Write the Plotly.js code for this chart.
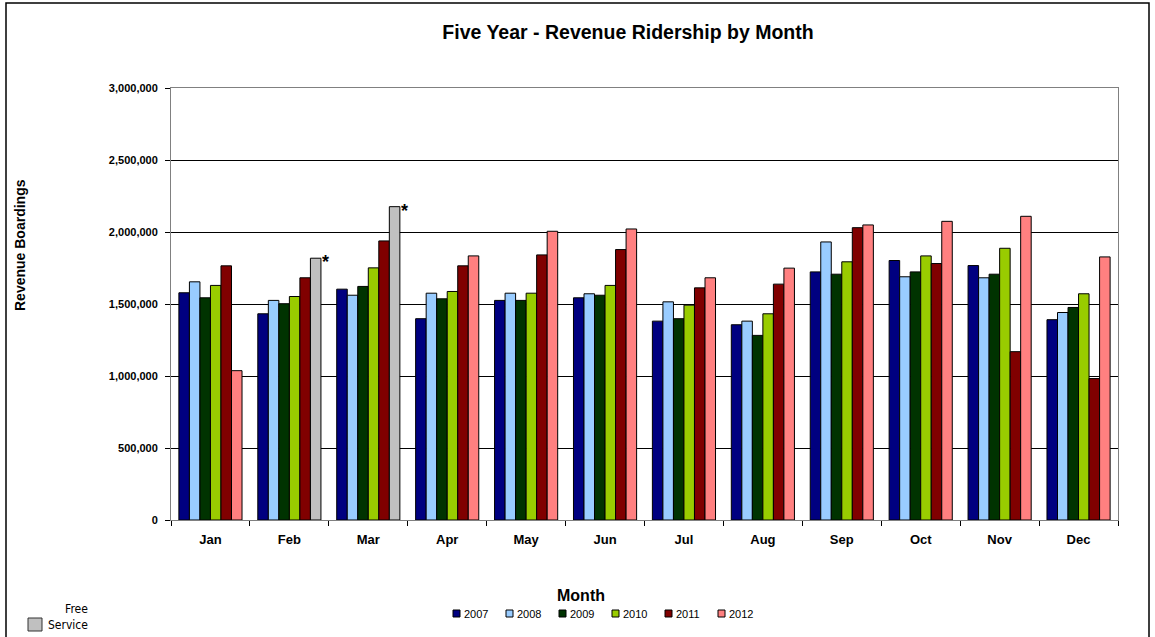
<!DOCTYPE html>
<html>
<head>
<meta charset="utf-8">
<script src="https://cdn.plot.ly/plotly-3.0.1.min.js"></script>
<style>
html,body{margin:0;padding:0;background:#fff;}
#chart{width:1155px;height:637px;}
</style>
</head>
<body>
<div id="chart"></div>
<script>
const months = ["Jan","Feb","Mar","Apr","May","Jun","Jul","Aug","Sep","Oct","Nov","Dec"];
const years = ["2007","2008","2009","2010","2011","2012"];
const y2007 = [1578000,1432000,1603000,1398000,1525000,1543000,1381000,1356000,1723000,1802000,1767000,1391000];
const y2008 = [1654000,1525000,1561000,1575000,1575000,1571000,1515000,1381000,1931000,1689000,1682000,1441000];
const y2009 = [1543000,1502000,1622000,1536000,1525000,1561000,1398000,1282000,1707000,1723000,1707000,1476000];
const y2010 = [1629000,1552000,1751000,1587000,1575000,1629000,1492000,1432000,1793000,1834000,1887000,1571000];
const y2011 = [1765000,1682000,1938000,1765000,1841000,1878000,1612000,1638000,2030000,1781000,1169000,982000];
const y2012 = [1037000,1818000,2176000,1834000,2005000,2021000,1682000,1749000,2049000,2074000,2109000,1827000];
const freeService = [false,true,true,false,false,false,false,false,false,false,false,false];
const yTickVals = [0,500000,1000000,1500000,2000000,2500000,3000000];

const seriesValues = [y2007,y2008,y2009,y2010,y2011,y2012];
const colors = ["#000080","#99CCFF","#003300","#99CC00","#800000","#FF8080"];
const freeColor = "#C0C0C0";

const traces = years.map((yr,i)=>({
  type:"bar",
  name:yr,
  x:months,
  y:seriesValues[i],
  marker:{
    color: i===5 ? months.map((m,k)=>freeService[k]?freeColor:colors[i]) : colors[i],
    line:{color:"#000",width:1}
  },
  showlegend:false,
  hoverinfo:"x+y+name"
}));

const px = v => (v-171)/947;
const py = v => (520-v)/432;

const annotations = [
  {text:"Revenue Boardings", xref:"paper", yref:"paper", x:px(20), y:py(245),
   xanchor:"center", yanchor:"middle",
   textangle:-90, showarrow:false, font:{family:"Liberation Sans, Arial", size:14, color:"#000", weight:"bold"}},
  {text:"Free<br>Service", xref:"paper", yref:"paper", x:px(90), y:py(617),
   xanchor:"right", yanchor:"middle", align:"right", showarrow:false,
   font:{family:"DejaVu Sans Condensed, Liberation Sans Narrow, Arial", size:12, color:"#000"}}
];
months.forEach((m,k)=>{
  if(freeService[k]){
    annotations.push({text:"*", x:m, y:y2012[k], xref:"x", yref:"y", xshift:36, yshift:-4,
      showarrow:false, font:{family:"Liberation Sans, Arial", size:18, color:"#000", weight:"bold"}});
  }
});

const shapes = [
  {type:"rect", xref:"paper", yref:"paper", x0:px(6), x1:px(1149), y0:py(700), y1:py(3),
   line:{color:"#000", width:1.5}, fillcolor:"rgba(0,0,0,0)", layer:"below"},
  {type:"rect", xref:"paper", yref:"paper", x0:px(28), x1:px(42), y0:py(631), y1:py(618),
   line:{color:"#333", width:1}, fillcolor:freeColor}
];

// custom compact legend built from years/colors
years.forEach((yr,i)=>{
  const x0 = 453 + i*53;
  shapes.push({type:"rect", xref:"paper", yref:"paper", x0:px(x0), x1:px(x0+7), y0:py(617), y1:py(610),
    line:{color:"#000", width:1}, fillcolor:colors[i]});
  annotations.push({text:yr, xref:"paper", yref:"paper", x:px(x0+9), y:py(613.5),
    xanchor:"left", yanchor:"middle", showarrow:false,
    font:{family:"Liberation Sans Narrow, Liberation Sans, Arial", size:11, color:"#000"}});
});

const layout = {
  width:1155, height:637,
  margin:{l:171, r:37, t:88, b:117},
  paper_bgcolor:"#fff", plot_bgcolor:"#fff",
  title:{text:"Five Year - Revenue Ridership by Month", x:px(628), xref:"paper", xanchor:"center",
    y:1-32/637, yanchor:"middle",
    font:{family:"Liberation Sans, Arial", size:19.5, color:"#000", weight:"bold"}},
  barmode:"group", bargap:0.2, bargroupgap:0,
  xaxis:{
    type:"category",
    tickson:"boundaries", ticks:"outside", ticklen:5, tickcolor:"#000",
    showline:true, linecolor:"#808080", mirror:true, linewidth:1,
    showgrid:false, ticklabelstandoff:7,
    tickfont:{family:"Liberation Sans, Arial", size:13, color:"#000", weight:"bold"}
  },
  yaxis:{
    range:[0,3000000], tickvals:yTickVals, tickformat:",d",
    ticks:"outside", ticklen:5, tickcolor:"#000",
    showline:true, linecolor:"#808080", mirror:true, linewidth:1,
    showgrid:true, gridcolor:"#000", gridwidth:1, zeroline:false,
    ticklabelstandoff:5,
    tickfont:{family:"Liberation Sans, Arial", size:11, color:"#000", weight:"bold"}
  },
  annotations:annotations.concat([
    {text:"Month", xref:"paper", yref:"paper", x:px(581), y:py(595), xanchor:"center", yanchor:"middle",
     showarrow:false, font:{family:"Liberation Sans, Arial", size:16, color:"#000", weight:"bold"}}
  ]),
  shapes:shapes,
  showlegend:false
};

Plotly.newPlot("chart", traces, layout, {displayModeBar:false, staticPlot:true});
</script>
</body>
</html>
